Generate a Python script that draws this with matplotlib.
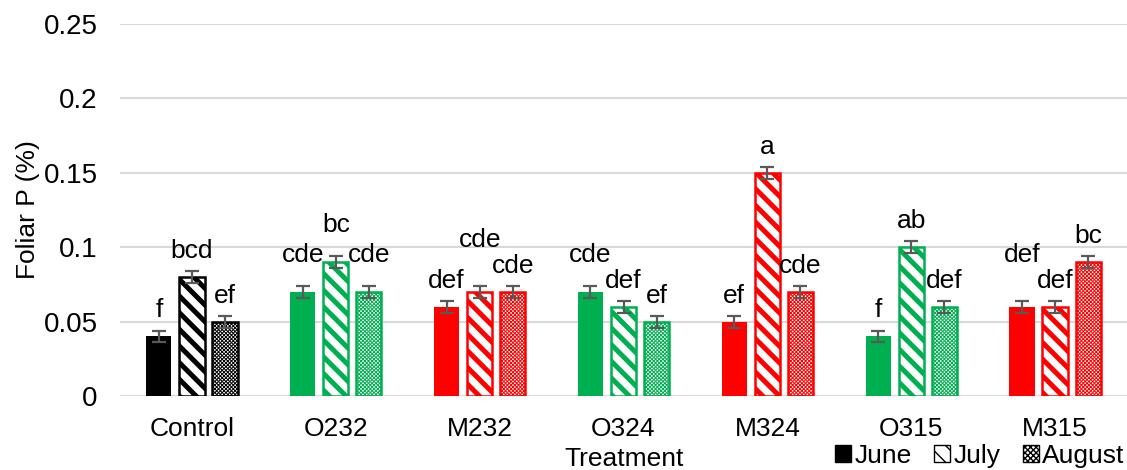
import numpy as np
import matplotlib
matplotlib.use('Agg')
import matplotlib.pyplot as plt
from matplotlib.patches import Patch

treatments = ['Control', 'O232', 'M232', 'O324', 'M324', 'O315', 'M315']
months = ['June', 'July', 'August']

june = [0.04, 0.07, 0.06, 0.07, 0.05, 0.04, 0.06]
july = [0.08, 0.09, 0.07, 0.06, 0.15, 0.10, 0.06]
august = [0.05, 0.07, 0.07, 0.05, 0.07, 0.06, 0.09]
err = 0.004

june_letters = ['f', 'cde', 'def', 'cde', 'ef', 'f', 'def']
july_letters = ['bcd', 'bc', 'cde', 'def', 'a', 'ab', 'def']
august_letters = ['ef', 'cde', 'cde', 'ef', 'cde', 'def', 'bc']

# colours per treatment
colors = ['black', '#00B050', '#FF0000', '#00B050', '#FF0000', '#00B050', '#FF0000']

# extra lift of some letters (labels moved by hand in the original)
june_lift = [0, 0.0075, 0, 0.0075, 0, 0, 0.0175]
july_lift = [0, 0.0075, 0.0175, 0, 0, 0, 0]
august_lift = [0, 0.0075, 0, 0, 0, 0, 0]

plt.rcParams['font.family'] = ['Liberation Sans', 'DejaVu Sans']
plt.rcParams['font.size'] = 19

fig = plt.figure(figsize=(11.27, 4.70), dpi=100)
ax = fig.add_axes([120/1127, 74/470, 1007/1127, 372/470])

x = np.arange(len(treatments))
w = 0.175
off = 0.23

series = [
    (june, june_letters, june_lift, -off, None, 1.0),
    (july, july_letters, july_lift, 0, '\\\\', 3.6),
    (august, august_letters, august_lift, off, 'xxxxxxxxx', 0.7),
]

for vals, letters, lift, dx, hatch, hlw in series:
    plt.rcParams['hatch.linewidth'] = hlw
    for i in range(len(treatments)):
        if hatch is None:
            ax.bar(x[i] + dx, vals[i], w, color=colors[i], zorder=2)
        else:
            ax.bar(x[i] + dx, vals[i], w, facecolor='white', edgecolor=colors[i],
                   hatch=hatch, linewidth=1.8, zorder=2)
        ax.text(x[i] + dx, vals[i] + 0.0175 + lift[i], letters[i],
                ha='center', va='center', fontsize=19, zorder=4)
    ax.errorbar(x + dx, vals, yerr=err, fmt='none', ecolor='#595959',
                elinewidth=1.6, capsize=5, capthick=1.6, zorder=3)

ax.set_xlim(-0.5, 6.5)
ax.set_ylim(0, 0.25)
ax.set_yticks([0, 0.05, 0.1, 0.15, 0.2, 0.25])
ax.set_yticklabels(['0', '0.05', '0.1', '0.15', '0.2', '0.25'])
ax.set_xticks(x)
ax.set_xticklabels(treatments)
ax.tick_params(axis='both', length=0, labelsize=19)
ax.tick_params(axis='y', pad=16, labelsize=20)
ax.tick_params(axis='x', pad=15)
ax.grid(axis='y', color='#D9D9D9', linewidth=1.5, zorder=0)
ax.set_axisbelow(True)
for s in ax.spines.values():
    s.set_visible(False)

ax.set_ylabel('Foliar P (%)', fontsize=19)
ax.yaxis.set_label_coords(-0.079, 0.5)
fig.text(624/1127, 11/470, 'Treatment', ha='center', va='center', fontsize=19)

plt.rcParams['hatch.linewidth'] = 1.0
handles = [
    Patch(facecolor='black', edgecolor='black'),
    Patch(facecolor='white', edgecolor='black', hatch='\\\\'),
    Patch(facecolor='white', edgecolor='black', hatch='xxxxxx'),
]
fig.legend(handles, months, loc='center right', bbox_to_anchor=(0.998, 14/470),
           ncol=3, frameon=False, fontsize=19, handlelength=0.6, handleheight=0.6,
           handletextpad=0.12, columnspacing=0.87, borderpad=0, borderaxespad=0)

fig.savefig('out.png', dpi=100)
